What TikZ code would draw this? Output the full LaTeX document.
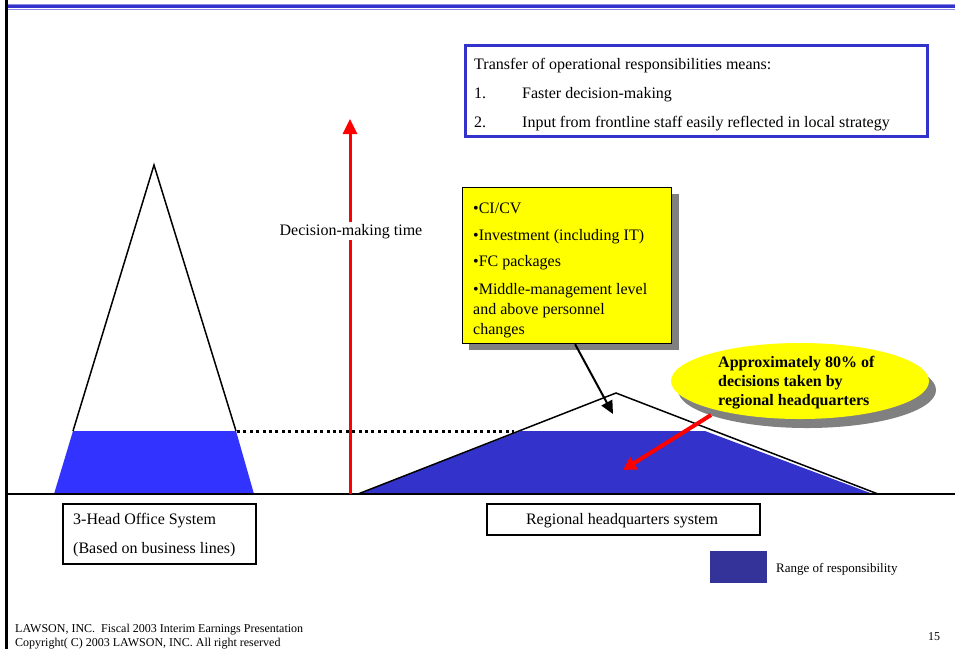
\documentclass[tikz,border=0pt]{standalone}
\usepackage{fontspec}
\setmainfont{Liberation Serif}
\usetikzlibrary{shapes.geometric,arrows.meta}
\definecolor{bbright}{HTML}{3333FF}
\definecolor{bmid}{HTML}{3333CC}
\definecolor{bdark}{HTML}{333399}
\definecolor{hlight}{HTML}{8C8CE6}
\definecolor{shadowgray}{HTML}{808080}
\definecolor{pptyellow}{HTML}{FFFF00}
\tikzset{
  txt/.style={font=\fontsize{16}{19}\selectfont, inner sep=0pt, anchor=base west},
  btxt/.style={font=\fontsize{16}{19}\selectfont\bfseries, inner sep=0pt, anchor=base west},
  smalltxt/.style={font=\fontsize{12}{14}\selectfont, inner sep=0pt, anchor=base west},
  legtxt/.style={font=\fontsize{13}{15}\selectfont, inner sep=0pt, anchor=base west},
  outline/.style={draw=black, line width=2pt},
}
\begin{document}
\begin{tikzpicture}[x=1pt,y=-1pt]
\useasboundingbox (0,0) rectangle (955,649);
% header rule
\fill[hlight] (5,3.8) rectangle (955,5);
\fill[bmid] (5,5) rectangle (955,8.3);
\fill[hlight] (5,9) rectangle (955,10.2);
% left margin line
\draw[line width=2.5pt] (6.5,0) -- (6.5,649);

% left system: triangle with blue base
\fill[bbright] (54,494) -- (73,431) -- (236,431) -- (254,494) -- cycle;
\draw[line width=1.5pt] (73,431) -- (154,165) -- (236,431);

% right system
\fill[bmid] (358,494) -- (521,431) -- (705,431) -- (873,494) -- cycle;
\draw[line width=1.5pt] (358,494) -- (616,393) -- (878,494);

% dotted level line
\draw[line width=3pt, dash pattern=on 3pt off 3.4pt] (237,431) -- (514,431);

% ground line
\draw[line width=2pt] (7,494) -- (955,494);

% decision-making time arrow
\coordinate (tbase) at (350,494);
\coordinate (ttip) at (350,119);
\draw[red, line width=3pt, -{Triangle[length=15pt,width=14pt]}] (tbase) -- (ttip);
\node[txt, anchor=base, fill=white, inner sep=2pt] (dmt) at (351,235) {Decision-making time};

% top blue box
\node[draw=bmid, line width=3pt, minimum width=462pt, minimum height=91pt, anchor=north west, inner sep=0pt] (tbox) at (463.5,43.5) {};
\node[txt] (t1) at (474,69) {Transfer of operational responsibilities means:};
\node[txt] (t2a) at (474,98) {1.};
\node[txt] (t2b) at (522,98) {Faster decision-making};
\node[txt] (t3a) at (474,127) {2.};
\node[txt] (t3b) at (522,127) {Input from frontline staff easily reflected in local strategy};

% yellow box with shadow
\fill[shadowgray] (469,194) rectangle (679,350);
\node[draw=black, line width=1.2pt, fill=pptyellow, minimum width=209pt, minimum height=156pt, anchor=north west, inner sep=0pt] (ybox) at (462,187) {};
\node[txt] (y1) at (473,213) {•CI/CV};
\node[txt] (y2) at (473,240) {•Investment (including IT)};
\node[txt] (y3) at (473,266) {•FC packages};
\node[txt] (y4) at (473,294) {•Middle-management level};
\node[txt] (y5) at (473,314) {and above personnel};
\node[txt] (y6) at (473,334) {changes};

% black arrow
\coordinate (bktip) at (613,414);
\draw[line width=2pt, -{Triangle[length=13pt,width=12pt]}] ([xshift=8pt]ybox.south) -- (bktip);

% ellipse with shadow
\fill[shadowgray] (807,390) ellipse [x radius=129, y radius=38];
\node[ellipse, fill=pptyellow, minimum width=258pt, minimum height=76pt, inner sep=0pt] (ell) at (800,381) {};
\node[btxt] (e1) at (718,367) {Approximately 80\% of};
\node[btxt] (e2) at (718,386) {decisions taken by};
\node[btxt] (e3) at (718,405) {regional headquarters};

% red arrow from ellipse
\coordinate (rstart) at (711,415);
\coordinate (rtip) at (623,470);
\draw[red, line width=4pt, -{Triangle[length=13pt,width=14pt]}] (rstart) -- (rtip);

% labels under ground
\node[outline, minimum width=193pt, minimum height=60pt, anchor=north west, inner sep=0pt] (lbox) at (62,503) {};
\node[txt] (l1) at (73,524) {3-Head Office System};
\node[txt] (l2) at (73,553) {(Based on business lines)};
\node[outline, minimum width=273pt, minimum height=31pt, anchor=north west, inner sep=0pt] (rbox) at (486,503) {};
\node[txt, anchor=base] (r1) at (622,524) {Regional headquarters system};

% legend
\fill[bdark] (710,551) rectangle (767,583);
\node[legtxt] (leg) at (776,572) {Range of responsibility};

% footer
\node[smalltxt] (f1) at (15,632) {LAWSON, INC.\ \ Fiscal 2003 Interim Earnings Presentation};
\node[smalltxt] (f2) at (15,646) {Copyright( C) 2003 LAWSON, INC. All right reserved};
\node[smalltxt] (pg) at (928,640) {15};
\end{tikzpicture}
\end{document}
